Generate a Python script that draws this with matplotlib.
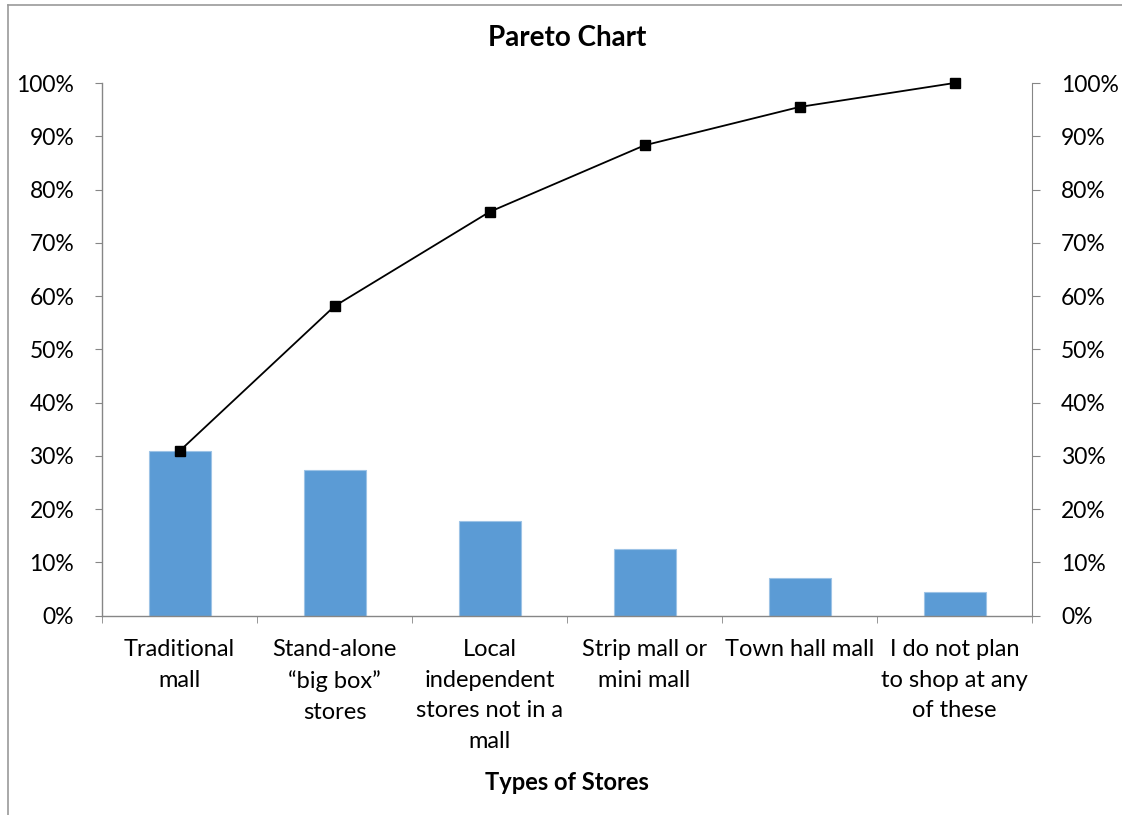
import matplotlib
matplotlib.use("Agg")
import matplotlib.pyplot as plt
import numpy as np
from matplotlib.ticker import FixedLocator, PercentFormatter

plt.rcParams['font.family'] = ['Lato', 'DejaVu Sans']

categories = ["Traditional\nmall", "Stand-alone\n\u201cbig box\u201d\nstores",
              "Local\nindependent\nstores not in a\nmall", "Strip mall or\nmini mall",
              "Town hall mall", "I do not plan\nto shop at any\nof these"]
shares = [30.9, 27.3, 17.7, 12.6, 7.0, 4.5]
cumulative = [30.9, 58.1, 75.8, 88.3, 95.5, 100.0]
title = "Pareto Chart"
xlabel = "Types of Stores"

W, H = 1122, 815
fig = plt.figure(figsize=(W / 100, H / 100), dpi=100)
fig.patch.set_facecolor("white")

# outer chart border (top/left visible)
fig.add_artist(plt.Line2D([8 / W, 8 / W], [0, 1 - 5 / H], transform=fig.transFigure, color="#9a9a9a", lw=1.2))
fig.add_artist(plt.Line2D([8 / W, 1], [1 - 5 / H, 1 - 5 / H], transform=fig.transFigure, color="#9a9a9a", lw=1.2))

left, right, top, bottom = 102, 1032, 83, 615.7
ax = fig.add_axes([left / W, 1 - bottom / H, (right - left) / W, (bottom - top) / H])
x = np.arange(len(categories))
ax.bar(x, shares, width=0.4, color="#5B9BD5", edgecolor="#9DC3E6", linewidth=0.8, zorder=2)
ax.plot(x, cumulative, color="black", lw=1.3, marker="s", markersize=7, zorder=3, clip_on=False)

ax.set_xlim(-0.5, len(categories) - 0.5)
ax.set_ylim(0, 100)
ax.set_yticks(np.arange(0, 101, 10))
ax.yaxis.set_major_formatter(PercentFormatter(decimals=0))

axis_col = "#868686"
for s in ["top", "right"]:
    ax.spines[s].set_visible(False)
for s in ["left", "bottom"]:
    ax.spines[s].set_color(axis_col)
    ax.spines[s].set_linewidth(1.0)

ax.set_xticks(x)
ax.set_xticklabels(categories, fontsize=17, linespacing=1.56, va="top")
ax.tick_params(axis="x", which="major", length=0, pad=17)
ax.xaxis.set_minor_locator(FixedLocator(np.arange(-0.5, len(categories), 1.0)))
ax.tick_params(axis="x", which="minor", length=5, color=axis_col, direction="out")
ax.tick_params(axis="y", length=5, color=axis_col, labelsize=16.5, pad=15)

ax2 = ax.twinx()
ax2.set_ylim(0, 100)
ax2.set_yticks(np.arange(0, 101, 10))
ax2.yaxis.set_major_formatter(PercentFormatter(decimals=0))
for s in ["top", "left", "bottom"]:
    ax2.spines[s].set_visible(False)
ax2.spines["right"].set_color(axis_col)
ax2.tick_params(axis="y", length=6, color=axis_col, labelsize=16.5, pad=15)

fig.text(567 / W, 1 - 38 / H, title, ha="center", va="center", fontsize=20, fontweight="bold")
fig.text(567 / W, 1 - 782 / H, xlabel, ha="center", va="center", fontsize=17, fontweight="bold")

fig.savefig("out.png", dpi=100)
